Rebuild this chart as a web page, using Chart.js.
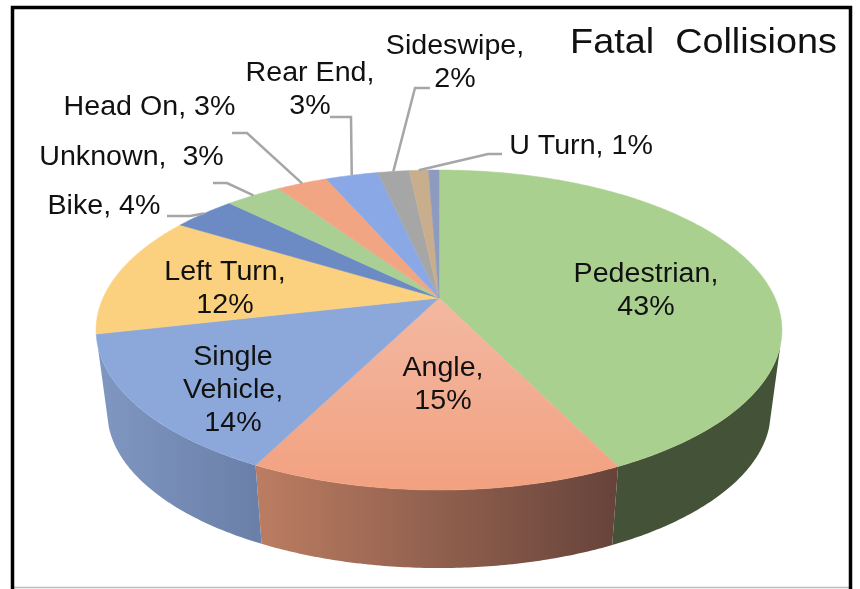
<!DOCTYPE html>
<html>
<head>
<meta charset="utf-8">
<title>Fatal Collisions</title>
<script src="https://cdn.jsdelivr.net/npm/chart.js@4/dist/chart.umd.min.js"></script>
<style>
    html, body { margin: 0; padding: 0; background: #fff; }
    canvas { display: block; filter: blur(0.5px); }
</style>
</head>
<body>
<canvas id="pieChart" width="860" height="589"></canvas>
<script>
// Chart data (slice sizes are estimated, they round to the printed labels)
const chartTitle = 'Fatal  Collisions';
const categories = ['Pedestrian', 'Angle', 'Single Vehicle', 'Left Turn', 'Bike', 'Unknown', 'Head On', 'Rear End', 'Sideswipe', 'U Turn', ''];
const percents = [42.8, 14.6, 14, 12.4, 3.6, 3.2, 2.9, 3, 1.8, 1.1, 0.6];

// Slice colours
const topColors = ['#A9D08E', '#F2AC8C', '#8CA8DA', '#FBD07E', '#6C8AC4', '#A9CF94', '#F2A583', '#8AA8E6', '#A6A6A6', '#C8AE8C', '#8E9ABE'];
const topGradients = {
    1: ['#F3B8A2', '#F2A180']
};
const wallColors = {
    0: ['#445338', '#445338'],
    1: ['#66433A', '#BC7D62'],
    2: ['#6A80A8', '#8097C2']
};

// Projection of the pie disc, top face and bottom face
const topFace = { x: 439, y: 298, a: 336, b: 153.6, p: 0.2 };
const bottomFace = { x: 439, y: 380.8, a: 325, b: 149.8, p: 0.2 };
const wallMin = 16.7 * Math.PI / 180;
const wallMax = 163.3 * Math.PI / 180;

const labelFont = 'Liberation Sans, Arial, sans-serif';
const labelColor = '#111';
const leaderColor = '#A6A6A6';

// Where the text goes for each slice, and the elbow of its leader line
const labelLayout = [
    { x: 646, y: 275, lines: ['Pedestrian,', '43%'] },
    { x: 443, y: 369, lines: ['Angle,', '15%'] },
    { x: 233, y: 358, lines: ['Single', 'Vehicle,', '14%'] },
    { x: 225, y: 273, lines: ['Left Turn,', '12%'] },
    { x: 104, y: 207, lines: ['Bike, 4%'], leader: [[167, 216], [190, 216]] },
    { x: 131.5, y: 158, lines: ['Unknown,  3%'], leader: [[213, 183], [227, 183]] },
    { x: 149.5, y: 108, lines: ['Head On, 3%'], leader: [[232, 133], [247, 133]] },
    { x: 310, y: 74, lines: ['Rear End,', '3%'], leader: [[330, 117], [351, 117]] },
    { x: 455, y: 47, lines: ['Sideswipe,', '2%'], leader: [[430, 88], [415, 88]] },
    { x: 581, y: 147, lines: ['U Turn, 1%'], leader: [[502, 154], [488, 154]] }
];

function project(face, angle) {
    const w = 1 - face.p * Math.sin(angle);
    return {
        x: face.x + face.a * Math.cos(angle) / w,
        y: face.y + face.b * Math.sin(angle) / w
    };
}

function traceArc(ctx, face, from, to) {
    const steps = Math.max(2, Math.ceil(Math.abs(to - from) / 0.01));
    for (let i = 0; i <= steps; i++) {
        const pt = project(face, from + (to - from) * i / steps);
        ctx.lineTo(pt.x, pt.y);
    }
}

function drawWall(ctx, arc, index) {
    const colors = wallColors[index];
    const from = Math.max(arc.startAngle, wallMin);
    const to = Math.min(arc.endAngle, wallMax);
    if (!colors || to <= from) {
        return;
    }
    const right = project(topFace, from).x;
    const left = project(topFace, to).x;
    const gradient = ctx.createLinearGradient(right, 0, left, 0);
    gradient.addColorStop(0, colors[0]);
    gradient.addColorStop(1, colors[1]);

    ctx.beginPath();
    traceArc(ctx, topFace, from, to);
    traceArc(ctx, bottomFace, to, from);
    ctx.closePath();
    ctx.fillStyle = gradient;
    ctx.fill();
}

function drawTop(ctx, arc, index) {
    let fill = arc.options.backgroundColor;
    if (topGradients[index]) {
        const bottom = project(topFace, Math.PI / 2).y;
        fill = ctx.createLinearGradient(0, topFace.y, 0, bottom);
        fill.addColorStop(0, topGradients[index][0]);
        fill.addColorStop(1, topGradients[index][1]);
    }
    ctx.beginPath();
    ctx.moveTo(topFace.x, topFace.y);
    traceArc(ctx, topFace, arc.startAngle, arc.endAngle);
    ctx.closePath();
    ctx.fillStyle = fill;
    ctx.strokeStyle = fill;
    ctx.lineWidth = 0.5;
    ctx.fill();
    ctx.stroke();
}

// Arial here is a touch wider than tall in the original, so stretch it a bit
function drawText(ctx, text, x, y, size, stretch) {
    ctx.save();
    ctx.translate(x, y);
    ctx.scale(stretch, 1);
    ctx.font = size + 'px ' + labelFont;
    ctx.fillStyle = labelColor;
    ctx.textAlign = 'center';
    ctx.textBaseline = 'middle';
    ctx.fillText(text, 0, 0);
    ctx.restore();
}

function drawLabels(ctx, arcs) {
    labelLayout.forEach((label, i) => {
        label.lines.forEach((line, n) => {
            drawText(ctx, line, label.x, label.y + n * 33, 27, 1.06);
        });
        if (label.leader) {
            const mid = (arcs[i].startAngle + arcs[i].endAngle) / 2;
            const end = project(topFace, mid);
            ctx.beginPath();
            ctx.moveTo(label.leader[0][0], label.leader[0][1]);
            ctx.lineTo(label.leader[1][0], label.leader[1][1]);
            ctx.lineTo(end.x, end.y);
            ctx.strokeStyle = leaderColor;
            ctx.lineWidth = 2.5;
            ctx.stroke();
        }
    });
}

function drawFrame(ctx) {
    ctx.strokeStyle = '#BDBDBD';
    ctx.lineWidth = 1.5;
    ctx.beginPath();
    ctx.moveTo(13, 587.5);
    ctx.lineTo(850, 587.5);
    ctx.stroke();

    ctx.strokeStyle = '#000';
    ctx.lineWidth = 3.5;
    ctx.beginPath();
    ctx.moveTo(12.5, 589);
    ctx.lineTo(12.5, 7.5);
    ctx.lineTo(850.5, 7.5);
    ctx.lineTo(850.5, 589);
    ctx.stroke();
}

// Pie with perspective: angles come from the chart's arc elements,
// the canvas arc itself can't do the tilt so it is drawn here instead
const perspectivePie = {
    id: 'perspectivePie',
    beforeDatasetsDraw(chart) {
        const ctx = chart.ctx;
        const arcs = chart.getDatasetMeta(0).data;
        ctx.save();
        drawFrame(ctx);
        arcs.forEach((arc, i) => drawWall(ctx, arc, i));
        arcs.forEach((arc, i) => drawTop(ctx, arc, i));
        drawLabels(ctx, arcs);
        drawText(ctx, chartTitle, 703.5, 43, 35, 1.08);
        ctx.restore();
        return false;
    }
};

new Chart(document.getElementById('pieChart'), {
    type: 'pie',
    data: {
        labels: categories,
        datasets: [{
            data: percents,
            backgroundColor: topColors,
            borderWidth: 0
        }]
    },
    options: {
        responsive: false,
        animation: false,
        plugins: {
            legend: { display: false },
            tooltip: { enabled: false }
        }
    },
    plugins: [perspectivePie]
});
</script>
</body>
</html>
